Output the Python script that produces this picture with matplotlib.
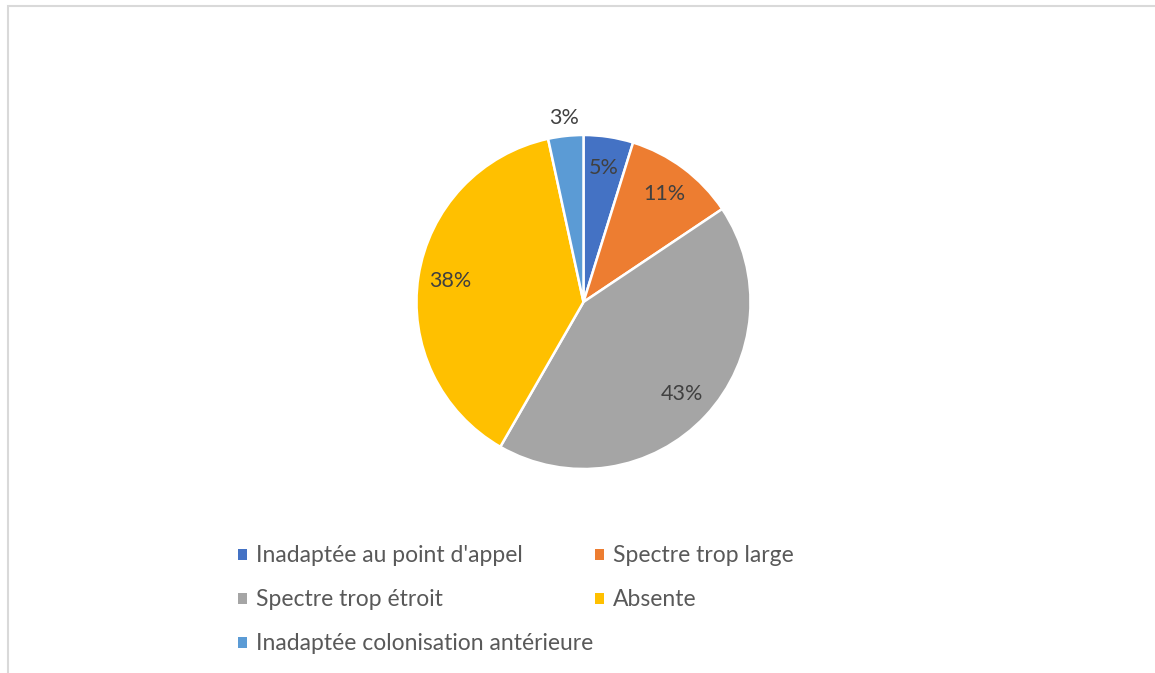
import matplotlib.pyplot as plt
from matplotlib.patches import Rectangle, Patch

categories = ["Inadaptée au point d'appel", "Spectre trop large", "Spectre trop étroit",
              "Absente", "Inadaptée colonisation antérieure"]
values = [4.8, 10.8, 42.7, 38.3, 3.4]
colors = ["#4472C4", "#ED7D31", "#A5A5A5", "#FFC000", "#5B9BD5"]

plt.rcParams['font.family'] = ['Lato', 'DejaVu Sans']

W, H = 1155, 673
fig = plt.figure(figsize=(W / 100, H / 100), dpi=100)

# light grey chart border (only top and left visible in the crop)
fig.patches.append(Rectangle((7.5 / W, -0.1), 1.2, 1 - 6.5 / H + 0.1, transform=fig.transFigure,
                             fill=False, edgecolor="#D9D9D9", linewidth=1.5))

cx, cy, r = 583.5, 302, 167
ax = fig.add_axes([(cx - r) / W, 1 - (cy + r) / H, 2 * r / W, 2 * r / H])

wedges, texts, autotexts = ax.pie(values, colors=colors, startangle=90, counterclock=False,
                                  autopct='%.0f%%', pctdistance=0.81,
                                  wedgeprops=dict(edgecolor='white', linewidth=1.8),
                                  textprops=dict(color='#404040', fontsize=15.5))
# the small last slice gets its label outside
x, y = autotexts[-1].get_position()
autotexts[-1].set_position((x * 1.11 / 0.81, y * 1.11 / 0.81))
ax.set_xlim(-1, 1)
ax.set_ylim(-1, 1)

order = [0, 2, 4, 1, 3]
handles = [Patch(facecolor=colors[i], edgecolor='none') for i in order]
labels = [categories[i] for i in order]
fig.legend(handles, labels, ncol=2, loc='upper left', bbox_to_anchor=(227 / W, 1 - 534 / H),
           frameon=False, fontsize=16.5, labelcolor='#595959', handlelength=0.36,
           handleheight=0.36, handletextpad=0.4, columnspacing=0.1, labelspacing=1.0,
           borderpad=0)

fig.savefig("out.png", dpi=100)
